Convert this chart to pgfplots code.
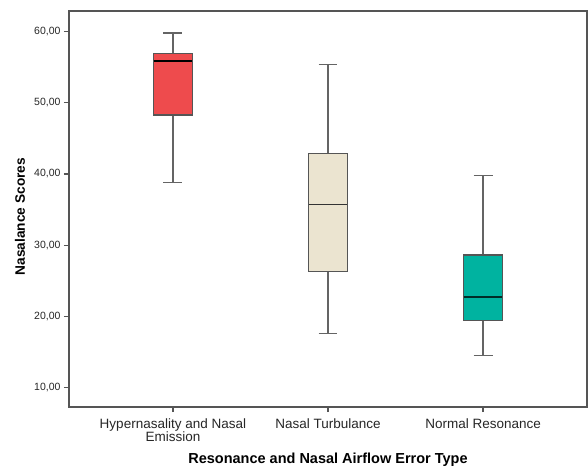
\documentclass[border=0pt]{standalone}
\usepackage{pgfplots}
\pgfplotsset{compat=1.18}
\usepackage{fontspec}
\setmainfont{Liberation Sans}
\definecolor{cred}{RGB}{238,75,77}
\definecolor{cbeige}{RGB}{235,228,208}
\definecolor{cteal}{RGB}{0,179,160}
\definecolor{cframe}{RGB}{85,85,85}
\definecolor{cwhisk}{RGB}{100,100,100}
\begin{document}
\begin{tikzpicture}
\begin{axis}[
  at={(0,0)}, anchor=south west,
  scale only axis, width=518pt, height=396pt,
  xmin=-0.67, xmax=2.67, ymin=7.3, ymax=62.85,
  xtick={0,1,2},
  xticklabels={{Hypernasality and Nasal\\Emission},{Nasal Turbulance},{Normal Resonance}},
  xticklabel style={align=center, font=\fontsize{13.5}{13.5}\selectfont, text=black!85, yshift=-3pt},
  ytick={10,20,30,40,50,60},
  yticklabels={{10,00},{20,00},{30,00},{40,00},{50,00},{60,00}},
  yticklabel style={font=\fontsize{10.5}{12}\selectfont, text=black!85},
  tick align=outside, tick pos=left, major tick length=5pt,
  axis line style={cframe, line width=1.5pt},
  tick style={cframe, line width=1.3pt},
  xlabel={Resonance and Nasal Airflow Error Type},
  ylabel={Nasalance Scores},
  xlabel style={font=\fontsize{14.5}{15}\selectfont\bfseries, at={(axis description cs:0.5,-0.134)}, anchor=center},
  ylabel style={font=\fontsize{13.7}{14}\selectfont\bfseries, at={(axis description cs:-0.0946,0.481)}, anchor=center},
  every axis plot/.append style={mark=none},
]
% --- Group 1: Hypernasality and Nasal Emission
\addplot[cwhisk, line width=1.4pt] coordinates {(0,56.9) (0,59.76)};
\addplot[cwhisk, line width=1.4pt] coordinates {(-0.061,59.76) (0.061,59.76)};
\addplot[cwhisk, line width=1.4pt] coordinates {(0,48.26) (0,38.77)};
\addplot[cwhisk, line width=1.4pt] coordinates {(-0.061,38.77) (0.061,38.77)};
\addplot[fill=cred, draw=cframe, line width=1.4pt] coordinates {(-0.125,48.26) (0.125,48.26) (0.125,56.9) (-0.125,56.9)} -- cycle;
\addplot[black, line width=1.9pt] coordinates {(-0.125,55.83) (0.125,55.83)};
% --- Group 2: Nasal Turbulance
\addplot[cwhisk, line width=1.4pt] coordinates {(1,42.89) (1,55.37)};
\addplot[cwhisk, line width=1.4pt] coordinates {(0.939,55.37) (1.061,55.37)};
\addplot[cwhisk, line width=1.4pt] coordinates {(1,26.34) (1,17.59)};
\addplot[cwhisk, line width=1.4pt] coordinates {(0.939,17.59) (1.061,17.59)};
\addplot[fill=cbeige, draw=cframe, line width=1.4pt] coordinates {(0.875,26.34) (1.125,26.34) (1.125,42.89) (0.875,42.89)} -- cycle;
\addplot[black!80, line width=1.4pt] coordinates {(0.875,35.74) (1.125,35.74)};
% --- Group 3: Normal Resonance
\addplot[cwhisk, line width=1.4pt] coordinates {(2,28.63) (2,39.75)};
\addplot[cwhisk, line width=1.4pt] coordinates {(1.939,39.75) (2.061,39.75)};
\addplot[cwhisk, line width=1.4pt] coordinates {(2,19.47) (2,14.56)};
\addplot[cwhisk, line width=1.4pt] coordinates {(1.939,14.56) (2.061,14.56)};
\addplot[fill=cteal, draw=cframe, line width=1.4pt] coordinates {(1.875,19.47) (2.125,19.47) (2.125,28.63) (1.875,28.63)} -- cycle;
\addplot[black!75!cteal, line width=1.7pt] coordinates {(1.875,22.7) (2.125,22.7)};
\end{axis}
\pgfresetboundingbox
\path[use as bounding box] (-69pt,-60pt) rectangle (519pt,407pt);
\end{tikzpicture}
\end{document}
